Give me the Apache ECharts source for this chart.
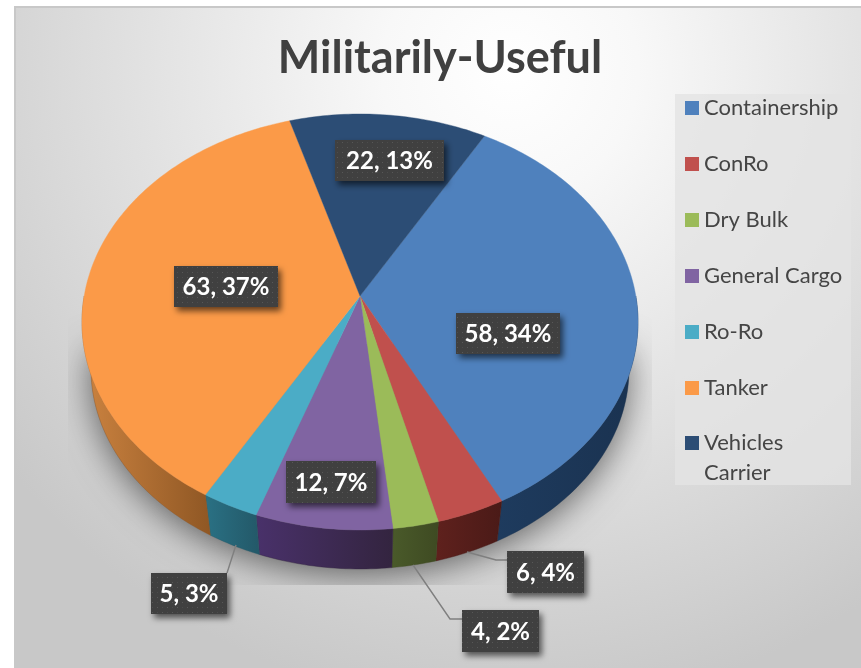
<!DOCTYPE html>
<html>
<head>
<meta charset="utf-8">
<style>html,body{margin:0;padding:0;background:#fff}#chart{width:861px;height:668px}</style>
<script src="https://cdn.jsdelivr.net/npm/echarts@6/dist/echarts.min.js"></script>
</head>
<body>
<div id="chart"></div>
<script>
// ---- data ----
const categories = ['Containership', 'ConRo', 'Dry Bulk', 'General Cargo', 'Ro-Ro', 'Tanker', 'Vehicles Carrier'];
const vessels = [58, 6, 4, 12, 5, 63, 22];
const titleText = 'Militarily-Useful';

// ---- styles ----
const topColors = ['#4F81BD', '#C0504D', '#9BBB59', '#8064A2', '#4BACC6', '#FB9A48', '#2C4D75'];
const wallLeft = ['#1E3B5E', '#5F211D', '#4A5A2A', '#49316A', '#2A7184', '#CC8340', '#1E3B5E'];
const wallRight = ['#1A3250', '#4A1A17', '#3E4A22', '#33243F', '#235868', '#8F5724', '#1A3250'];

// ---- projection of the tilted disc ----
const topRim = { cx: 360, cy: 322, rx: 278, ry: 208 };
const baseRim = { cx: 360, cy: 369, rx: 269, ry: 200 };
const apex = { x: 360, y: 296 };
const startAngle = 30;
const ecc = (topRim.cy - apex.y) / topRim.ry;
const shift = (1 - Math.sqrt(1 - ecc * ecc)) / ecc;
function rimAngle(deg) {
  const t = deg * Math.PI / 180;
  return Math.atan2(Math.sin(t) * (1 - shift * shift), Math.cos(t) * (1 + shift * shift) + 2 * shift);
}
function onEllipse(el, phi) { return [el.cx + el.rx * Math.sin(phi), el.cy - el.ry * Math.cos(phi)]; }
function arc(el, a0, a1) {
  const pts = [], n = Math.max(2, Math.ceil(a1 - a0));
  for (let i = 0; i <= n; i++) pts.push(onEllipse(el, rimAngle(a0 + (a1 - a0) * i / n)));
  return pts;
}
const total = vessels.reduce((s, v) => s + v, 0);
const startOf = i => startAngle + vessels.slice(0, i).reduce((s, v) => s + v, 0) / total * 360;
const labelOf = i => vessels[i] + ', ' + Math.round(vessels[i] / total * 100) + '%';

// ---- label boxes and leader lines (layout only) ----
const labelBox = [
  [456, 313, 104, 41], [507, 551, 77, 42], [462, 610, 77, 42], [286, 461, 90, 42],
  [151, 573, 76, 41], [174, 266, 104, 41], [335, 140, 109, 41]
];
const leaders = { 1: [[467, 552], [496, 560], [507, 560]], 2: [[413, 565], [450, 619], [462, 619]], 4: [[236, 545], [227, 573]] };

// dotted fill for label boxes
const tile = document.createElement('canvas');
tile.width = 10; tile.height = 10;
const ctx = tile.getContext('2d');
ctx.fillStyle = '#404040'; ctx.fillRect(0, 0, 10, 10);
ctx.fillStyle = '#585858';
ctx.fillRect(2, 2, 1, 1); ctx.fillRect(7, 7, 1, 1);
ctx.fillStyle = '#4C4C4C';
ctx.fillRect(7, 2, 1, 1); ctx.fillRect(2, 7, 1, 1);

function renderSlice(params, api) {
  const i = params.seriesIndex;
  const a0 = startOf(i), a1 = a0 + api.value(0) / total * 360;
  const children = [];
  if (i === 0) {
    children.push({
      type: 'polygon', z2: 0, silent: true,
      shape: { points: arc(baseRim, 90, 270) },
      style: { fill: '#888', shadowBlur: 34, shadowColor: 'rgba(0,0,0,0.55)', shadowOffsetY: 6 },
      clipPath: { type: 'rect', shape: { x: 68, y: 100, width: 584, height: 485 } }
    });
  }
  const rim = arc(topRim, a0, a1);
  const wall0 = Math.max(a0, 90), wall1 = Math.min(a1, 270);
  if (wall1 > wall0) {
    children.push({
      type: 'polygon', z2: 1,
      shape: { points: arc(topRim, wall0, wall1).concat(arc(baseRim, wall0, wall1).reverse()) },
      style: {
        fill: { type: 'linear', x: 0, y: 0, x2: 1, y2: 0, colorStops: [{ offset: 0, color: wallLeft[i] }, { offset: 1, color: wallRight[i] }] },
        stroke: wallRight[i], lineWidth: 0.4
      }
    });
  }
  children.push({
    type: 'polygon', z2: 2,
    shape: { points: [[apex.x, apex.y]].concat(rim) },
    style: { fill: topColors[i], stroke: topColors[i], lineWidth: 0.4 }
  });
  if (leaders[i]) {
    children.push({
      type: 'polyline', z2: 3, shape: { points: leaders[i] },
      style: { fill: 'none', stroke: '#7F7F7F', lineWidth: 1.4 }
    });
  }
  const b = labelBox[i];
  children.push({
    type: 'rect', z2: 4, shape: { x: b[0], y: b[1], width: b[2], height: b[3] },
    style: { fill: { image: tile, repeat: 'repeat' }, shadowBlur: 6, shadowColor: 'rgba(0,0,0,0.6)', shadowOffsetX: 3, shadowOffsetY: 4 }
  });
  children.push({
    type: 'text', z2: 5,
    style: {
      text: labelOf(i), x: b[0] + b[2] / 2, y: b[1] + b[3] / 2 + 1,
      fill: '#fff', font: 'bold 24px Lato', align: 'center', verticalAlign: 'middle'
    }
  });
  return { type: 'group', children };
}

const legendText = { color: '#454545', fontFamily: 'Lato', fontSize: 22 };
const chart = echarts.init(document.getElementById('chart'), null, { renderer: 'canvas' });
chart.setOption({
  animation: false,
  color: topColors,
  title: {
    text: titleText, left: 440, top: 36, textAlign: 'center', padding: 0,
    textStyle: { fontFamily: 'Lato', fontWeight: 'bold', fontSize: 45, color: '#404040' }
  },
  legend: [
    {
      data: categories.slice(0, 6), orient: 'vertical', left: 685, top: 97, padding: 0,
      icon: 'rect', itemWidth: 14, itemHeight: 14, itemGap: 34, selectedMode: false,
      textStyle: Object.assign({ lineHeight: 20 }, legendText)
    },
    {
      data: categories.slice(6), orient: 'vertical', left: 685, top: 398, padding: 0,
      icon: 'rect', itemWidth: 14, itemHeight: 14, selectedMode: false,
      formatter: n => ' \n' + n.replace(' ', '\n'),
      textStyle: Object.assign({ lineHeight: 30 }, legendText)
    }
  ],
  graphic: [
    {
      type: 'rect', z: -2, silent: true, shape: { x: 15, y: 7, width: 860, height: 675 },
      style: {
        fill: { type: 'radial', x: 510, y: 70, r: 640, global: true, colorStops: [
          { offset: 0, color: '#FFFFFF' }, { offset: 0.2, color: '#F8F8F8' }, { offset: 1, color: '#C8C8C8' }] },
        stroke: '#C8C8C8', lineWidth: 2
      }
    },
    {
      type: 'rect', z: -1, silent: true, shape: { x: 675, y: 94, width: 176, height: 391 },
      style: { fill: 'rgba(228,228,228,0.8)' }
    }
  ],
  series: categories.map((name, i) => ({
    type: 'custom', name, coordinateSystem: 'none', clip: false,
    data: [vessels[i]], itemStyle: { color: topColors[i] }, renderItem: renderSlice
  }))
});
</script>
</body>
</html>
